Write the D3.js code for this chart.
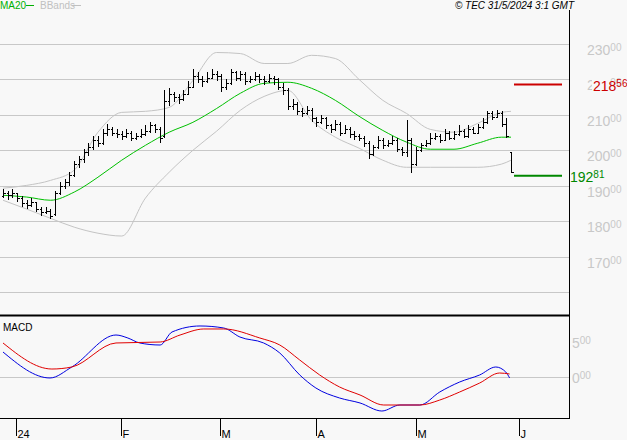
<!DOCTYPE html>
<html><head><meta charset="utf-8">
<script src="https://cdn.jsdelivr.net/npm/d3@7"></script>
<style>body{margin:0;background:#f8f8f8}svg{display:block}text{font-family:"Liberation Sans",Arial,sans-serif}</style>
</head><body><svg id="c" width="627" height="440"></svg>
<script>
// [open, high, low, close]
const bars = [
[187,189,186.5,188],[188,188.5,186,187.5],[187.5,189,186.5,188],[188,188,185.5,186.5],[186.5,187,184,185],
[185,186,183.5,184.5],[184.5,186.5,184,185.5],[185.5,185.5,182.5,183.5],[183.5,184,181.5,182.5],[182.5,184,182,183],
[183,183.5,180.5,181.5],[182,188.5,181.5,188],[188,191,187.5,190],[190,192,189,191],[191,194,190,193],
[193,197,192.5,196],[196,198.5,195,197.5],[197.5,200.5,196.5,199.5],[199.5,202,198.5,201],[201,204,200,203],
[203,204,201,202],[202,206,201.5,205],[205,207.5,204,206],[206,206.5,204,205],[205,206,203.5,204.5],
[204.5,205.5,203,204],[204,206,203.5,205],[205,205.5,202.5,203.5],[203.5,205,203,204],[204,206,203.5,204.5],
[204.5,207,204,205.5],[205.5,208,205,207],[207,207.5,205,206],[206,206.5,202,203.5],[204,217,203.5,214],
[214,217.5,212.5,216],[216,216.5,213.5,215],[215,216,213,214.5],[214.5,217,214,216],[216,219.5,215.5,218],
[218,223,217.5,221],[221,222,219,220],[220,221,218,219.5],[219.5,222,219,220.5],[220.5,223,220,221.5],
[221.5,222.5,219.5,221],[221,221.5,216.5,218],[218,220,217,219],[219,223,218.5,222],[222,222.5,219.5,220.5],
[220.5,222.5,219.5,221.5],[221.5,222,218.5,219.5],[219.5,221,219,220],[220,222,219.5,221],[221,221.5,219,220],
[220,221,218.5,219.5],[219.5,221.5,219,220.5],[220.5,221,218.5,220],[220,220.5,217,218],[218,219,215.5,217],
[217,217.5,211.5,212.5],[212.5,214.5,211.5,213],[213,213.5,210,211],[211,212,209.5,210.5],[210.5,212.5,210,211.5],
[211.5,212,208,209],[209,209.5,206.5,208],[208,210,207.5,209],[209,209.5,206,207],[207,207.5,205,206],
[206,208.5,205.5,207.5],[207.5,208,204,205],[205,207,204.5,206],[206,206.5,203.5,204.5],[204.5,205.5,203,204],
[204,204.5,202.5,203.5],[203.5,204,201,202],[202,202.5,197.5,199],[199,201.5,198.5,201],[201,204,200.5,203],
[203,203.5,200.5,201.5],[201.5,203,201,202],[202,204,201.5,203],[203,203.5,199.5,200.5],[200.5,201,198.5,199.5],
[199.5,208.5,198,203],[203,203.5,193.5,196],[196,201,195.5,200],[200,202,199.5,201.5],[201.5,203,201,202],
[202,205,201.5,203.5],[203.5,205,203,204],[204,204.5,202,203],[203,206,202.5,205],[205,205.5,203,203.5],
[203.5,205.5,203,204.5],[204.5,207,204,205.5],[205.5,206,203.5,204],[204,207,203.5,206],[206,206.5,204.5,205],
[205,207.5,204.5,206.5],[206.5,209,206,208],[208,211,207.5,210.5],[210.5,211,208.5,209.5],[209.5,211.5,209,210.5],
[210.5,211,206.5,207.5],[207.5,209,203.5,204],[199.5,199.5,193.5,194]];
const bandIdx = [0,5,10,15,20,25,30,35,40,45,50,55,60,65,70,75,80,85,90,95,100,105,107];
const ma20 = [187.3,186.8,185.9,188.2,192.4,197.2,201.4,205.1,207.9,211.8,216.1,218.9,219.2,217.5,214.1,209.6,205.6,202.3,200.3,200.3,202,203.7,203.7];
const bbUpper = [189.3,190.1,191.5,194.4,205.1,210.7,211,212.1,219.7,227.6,227.3,224.5,224.5,226.8,225.9,220,214.1,210.4,205.9,205.1,207.6,210.7,211];
const bbLower = [185.9,183.4,180.8,178.3,176.6,175.8,186.5,193.8,200,205.4,211.3,215.2,216.9,208.5,203.7,200.6,197.2,195.2,195.2,195.2,195.2,196.1,197.2];
const macdIdx = [0,9.9,14.5,23.8,26.3,28.8,33.1,35.6,41.5,46.5,49.9,54.9,58.3,62.5,65.9,70.9,75.2,79.8,83.6,87.8,92,96.2,100.4,103.8,105.9,106.7];
const macdVal = [3.57,-0.14,1.43,6.0,5.57,4.86,4.57,6.43,7.29,7.0,5.71,4.86,3.43,0.29,-1.57,-3.0,-3.71,-4.86,-4.0,-4.0,-2.14,-0.71,0.29,1.43,0.71,-0.14];
const sigIdx = [0,10.3,14.5,23.8,33.1,37.3,42.3,46.5,54.1,58.3,62.5,66.7,70.9,75.2,80.2,87.8,92,96.2,100.4,104.6,106.7];
const sigVal = [4.86,1.14,1.43,4.86,5.0,6.0,6.86,6.86,5.57,4.57,2.43,0.29,-1.43,-2.57,-4.0,-4.0,-3.29,-2.14,-0.86,0.57,0.43];
const priceTicks = [230,220,210,200,190,180,170];
const macdTicks = [5,0];
const dateTickIdx = [2.7,24.8,45.7,65.9,87,108.6];
const dateLabels = ["24","F","M","A","M","J"];
const resistance = 218.56, support = 192.81;

const svg = d3.select("#c");
const x = d3.scaleLinear().domain([0,107]).range([3,511]);
const y = d3.scaleLinear().domain([160,230]).range([292,44]);
const ym = d3.scaleLinear().domain([0,5]).range([377,342]);
const grid = "#c8c8c8";

svg.append("rect").attr("width",627).attr("height",440).attr("fill","#f8f8f8");
[...priceTicks,160].forEach(v=>svg.append("line").attr("x1",0).attr("x2",569).attr("y1",Math.round(y(v))+.5).attr("y2",Math.round(y(v))+.5).attr("stroke",grid));
svg.append("line").attr("x1",0).attr("x2",569).attr("y1",Math.round(ym(0))+.5).attr("y2",Math.round(ym(0))+.5).attr("stroke",grid);

function lbl(xx, yy, big, small, col, size){
  const t = svg.append("text").attr("x",xx).attr("y",yy).attr("fill",col).attr("font-size",size||14);
  t.append("tspan").text(big);
  t.append("tspan").attr("font-size",10).attr("dy",-4).text(small);
}
priceTicks.forEach(v=>lbl(587, y(v)+11, String(v), "00", grid));
macdTicks.forEach(v=>lbl(572, ym(v)+6, String(v), "00", grid));

const ln = (xs,vs,sc)=>d3.line().curve(d3.curveMonotoneX).x((d,i)=>x(xs[i])).y(d=>sc(d))(vs);
svg.append("path").attr("d",ln(bandIdx,bbUpper,y)).attr("fill","none").attr("stroke","#c4c4c4");
svg.append("path").attr("d",ln(bandIdx,bbLower,y)).attr("fill","none").attr("stroke","#c4c4c4");
svg.append("path").attr("d",ln(bandIdx,ma20,y)).attr("fill","none").attr("stroke","#00c000");

const g = svg.append("g").attr("stroke","#000").attr("shape-rendering","crispEdges");
bars.forEach((b,i)=>{
  const cx = Math.round(x(i))+.5;
  g.append("line").attr("x1",cx).attr("x2",cx).attr("y1",y(b[1])).attr("y2",y(b[2]));
  g.append("line").attr("x1",cx-2).attr("x2",cx).attr("y1",Math.round(y(b[0]))+.5).attr("y2",Math.round(y(b[0]))+.5);
  g.append("line").attr("x1",cx).attr("x2",cx+2).attr("y1",Math.round(y(b[3]))+.5).attr("y2",Math.round(y(b[3]))+.5);
});

svg.append("line").attr("x1",514).attr("x2",562).attr("y1",y(resistance)).attr("y2",y(resistance)).attr("stroke","#cc0000").attr("stroke-width",2);
svg.append("line").attr("x1",514).attr("x2",562).attr("y1",y(support)).attr("y2",y(support)).attr("stroke","#008800").attr("stroke-width",2);
svg.append("rect").attr("x",592).attr("y",y(resistance)-8).attr("width",18).attr("height",14).attr("fill","#f8f8f8");
lbl(593, y(resistance)+6, "218", "56", "#cc0000");
lbl(570, y(support)+6, "192", "81", "#008800");

svg.append("path").attr("d",ln(macdIdx,macdVal,ym)).attr("fill","none").attr("stroke","#0000e0");
svg.append("path").attr("d",ln(sigIdx,sigVal,ym)).attr("fill","none").attr("stroke","#e00000");

svg.append("line").attr("x1",569.5).attr("x2",569.5).attr("y1",10).attr("y2",419).attr("stroke","#000");
svg.append("line").attr("x1",0).attr("x2",570).attr("y1",315.5).attr("y2",315.5).attr("stroke","#000").attr("stroke-width",2);
svg.append("line").attr("x1",0).attr("x2",570).attr("y1",418.5).attr("y2",418.5).attr("stroke","#000");
dateTickIdx.forEach((d,i)=>{
  const px = Math.round(x(d))+.5;
  svg.append("line").attr("x1",px).attr("x2",px).attr("y1",419).attr("y2",436).attr("stroke","#000");
  svg.append("text").attr("x",px+1).attr("y",438).attr("font-size",11).text(dateLabels[i]);
});

svg.append("text").attr("x",3).attr("y",331).attr("font-size",10).text("MACD");
svg.append("text").attr("x",0).attr("y",9).attr("font-size",10).attr("fill","#00b000").text("MA20");
svg.append("line").attr("x1",26).attr("x2",34).attr("y1",5.5).attr("y2",5.5).attr("stroke","#00b000");
svg.append("text").attr("x",40).attr("y",9).attr("font-size",10).attr("fill","#c0c0c0").text("BBands");
svg.append("line").attr("x1",72).attr("x2",81).attr("y1",5.5).attr("y2",5.5).attr("stroke","#c0c0c0");
svg.append("text").attr("x",574).attr("y",9).attr("text-anchor","end").attr("font-size",10).attr("font-style","italic").text("© TEC 31/5/2024 3:1 GMT");
</script></body></html>
